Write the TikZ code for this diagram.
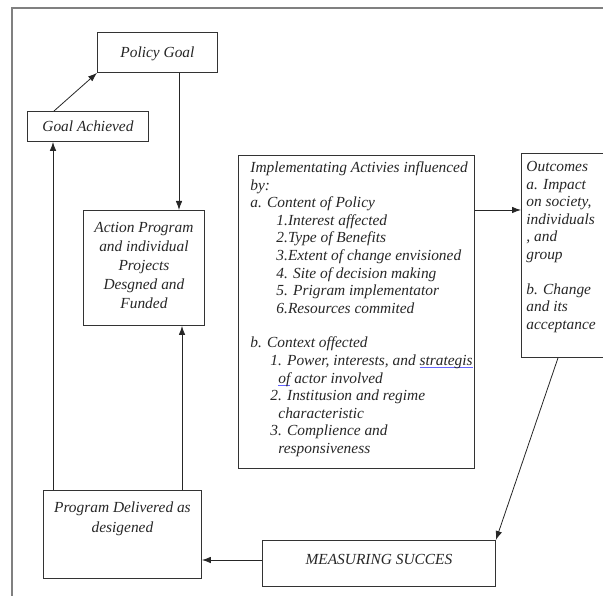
\documentclass[tikz,border=0pt]{standalone}
\usepackage{fontspec}
\setmainfont{Liberation Serif}
\usetikzlibrary{arrows.meta}
\tikzset{
  box/.style={draw=black!80, line width=0.9pt, inner sep=0pt, anchor=north west, text=black!85},
  arr/.style={-{Latex[length=9pt,width=6.5pt]}, draw=black!85, line width=0.8pt},
  frame/.style={draw=black!50, line width=1.6pt},
}
\newcommand{\bx}[3]{\parbox[c][#2][t]{#1}{\fontsize{15.4}{17.6}\selectfont\itshape #3}}
\newcommand{\wv}[1]{\setbox0\hbox{#1}\rlap{\color{blue!60}\raisebox{-2.5pt}{\rule{\wd0}{0.6pt}}}\box0\relax}
\begin{document}
\begin{tikzpicture}[x=1pt,y=-1pt]
\useasboundingbox (0,0) rectangle (603,596);
\clip (0,0) rectangle (603,596);
\draw[frame] (605,8) -- (12,8) -- (12,600);

\node[box] (policy) at (97,32) {\bx{120pt}{40pt}{\centering\rule{0pt}{25pt}Policy Goal\par}};
\node[box] (goal) at (27,111) {\bx{121pt}{30pt}{\centering\rule{0pt}{20pt}Goal Achieved\par}};
\node[box] (action) at (83,210) {\bx{121pt}{115pt}{\centering\setlength{\baselineskip}{19pt}\rule{0pt}{22pt}Action Program\\and individual\\Projects\\Desgned and\\Funded\par}};
\node[box] (impl) at (238,155) {\bx{236pt}{313pt}{\raggedright\leftskip=12pt
\rule{0pt}{17pt}\mbox{Implementating Activies influenced}\\
by:\\
a. Content of Policy\\
\hspace*{26pt}1.Interest affected\\
\hspace*{26pt}2.Type of Benefits\\
\hspace*{26pt}\mbox{3.Extent of change envisioned}\\
\hspace*{26pt}4. Site of decision making\\
\hspace*{26pt}5. Prigram implementator\\
\hspace*{26pt}6.Resources commited\\[17pt]
b. Context offected\\
\hspace*{20pt}\mbox{1. Power, interests, and \wv{strategis}}\\
\hspace*{28pt}\wv{of} actor involved\\
\hspace*{20pt}2. Institusion and regime\\
\hspace*{28pt}characteristic\\
\hspace*{20pt}3. Complience and\\
\hspace*{28pt}responsiveness\par}};
\node[box] (outc) at (521,153) {\bx{100pt}{204pt}{\raggedright\leftskip=5pt
\rule{0pt}{18pt}Outcomes\\
a. Impact\\
on society,\\
individuals\\
, and\\
group\\[17pt]
b. Change\\
and its\\
acceptance\par}};
\node[box] (prog) at (43,490) {\bx{158pt}{88pt}{\centering\setlength{\baselineskip}{20pt}\rule{0pt}{22pt}Program Delivered as\\desigened\par}};
\node[box] (meas) at (262,540) {\bx{233pt}{46pt}{\centering\rule{0pt}{24pt}MEASURING SUCCES\par}};

\draw[arr] ([xshift=27pt]goal.north west) -- (policy.south west);
\draw[arr] ([xshift=82pt]policy.south west) -- ([xshift=82pt]policy.south west |- action.north);
\draw[arr] ([xshift=10pt]prog.north west) -- ([xshift=10pt]prog.north west |- goal.south);
\draw[arr] ([xshift=139pt]prog.north west) -- ([xshift=139pt]prog.north west |- action.south);
\draw[arr] ([yshift=-55pt]impl.north east) -- ([yshift=-55pt]impl.north east -| outc.west);
\draw[arr] ([xshift=37pt]outc.south west) -- (meas.north east);
\draw[arr] ([yshift=-20pt]meas.north west) -- ([yshift=-20pt]meas.north west -| prog.east);
\end{tikzpicture}
\end{document}
